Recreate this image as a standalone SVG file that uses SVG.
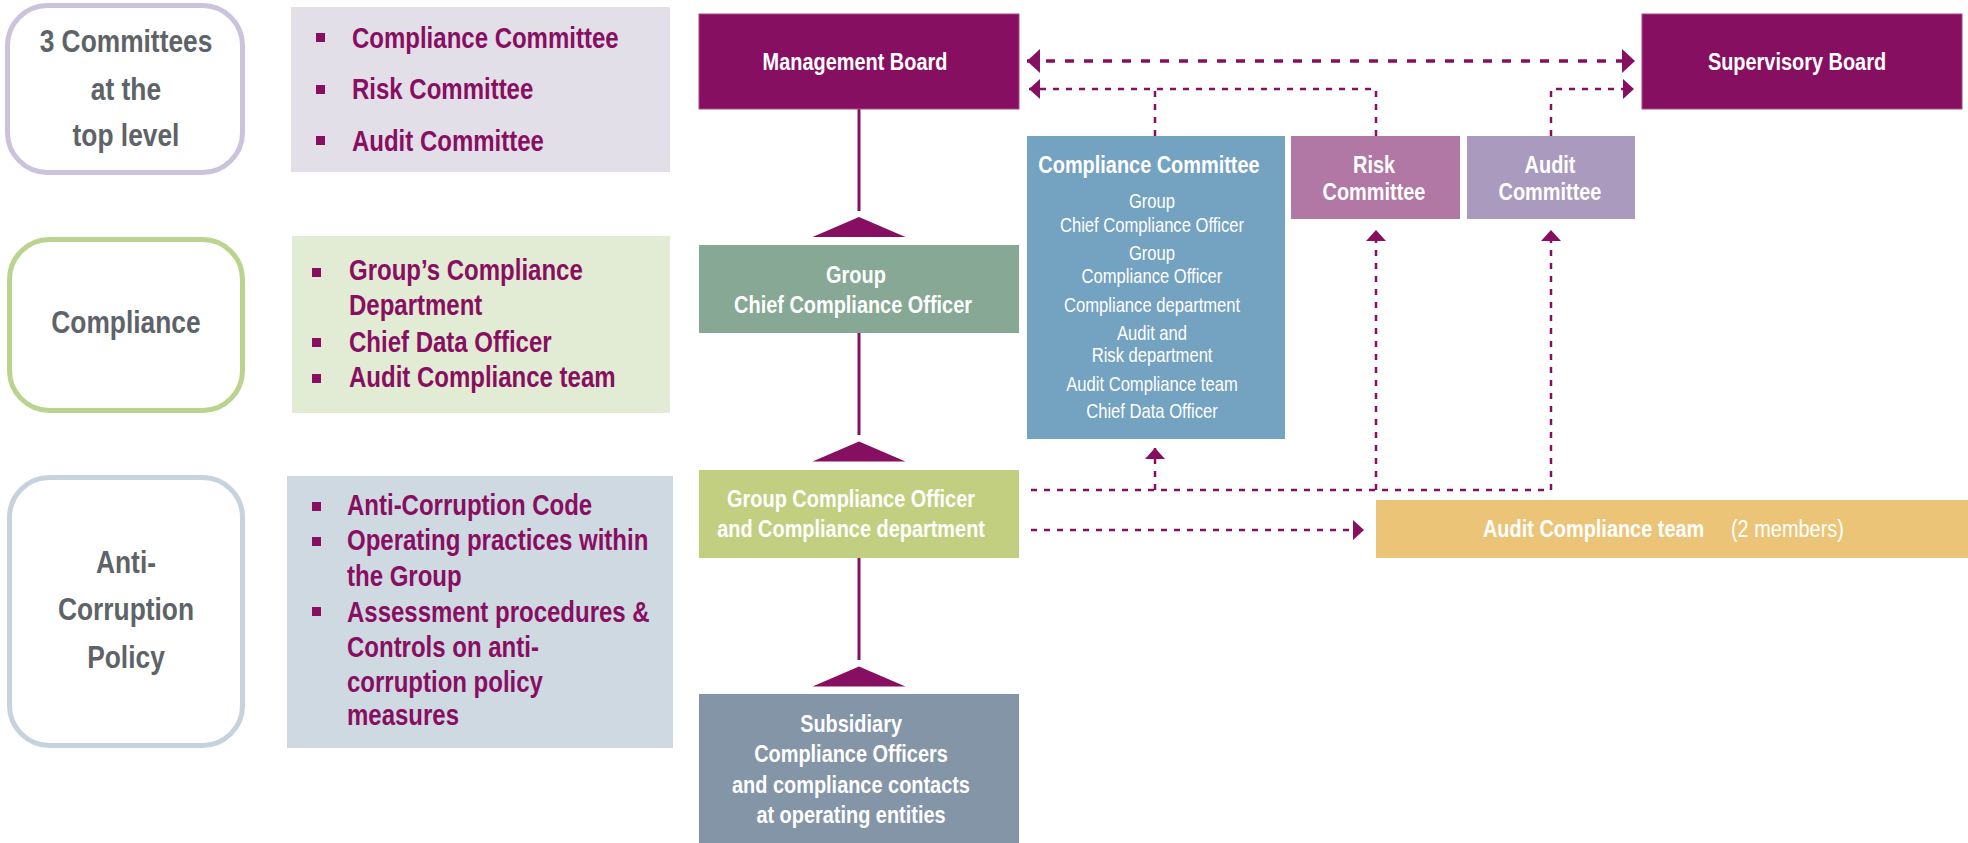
<svg xmlns="http://www.w3.org/2000/svg" width="1968" height="843" viewBox="0 0 1968 843">
<style>
text{font-family:"Liberation Sans","Arial",sans-serif;transform-box:fill-box;}
.cat{font-size:31px;font-weight:bold;fill:#5e6368;text-anchor:middle;transform-origin:center;transform:scaleX(0.85);}
.li{font-size:30px;font-weight:bold;fill:#880e62;transform-origin:left center;transform:scaleX(0.80);}
.nb{font-size:24px;font-weight:bold;fill:#fff;text-anchor:middle;transform-origin:center;transform:scaleX(0.83);}
.nr{font-size:20.5px;fill:#fff;text-anchor:middle;transform-origin:center;transform:scaleX(0.81);}
.nbl{font-size:24px;font-weight:bold;fill:#fff;transform-origin:left center;transform:scaleX(0.83);}
.nrl{font-size:24px;fill:#fff;transform-origin:left center;transform:scaleX(0.83);}
.bul{fill:#880e62;}
.solid{stroke:#870f62;stroke-width:3;fill:none;}
.tri{fill:#870f62;}
.dk{stroke:#870f62;stroke-width:3.5;fill:none;stroke-dasharray:9 10;}
.dt{stroke:#870f62;stroke-width:2.5;fill:none;stroke-dasharray:6 7;}
</style>
<defs>
<marker id="ahBig" markerUnits="userSpaceOnUse" markerWidth="14" markerHeight="24" refX="13" refY="12" orient="auto-start-reverse" viewBox="0 0 14 24">
<path d="M0,0 L13,12 L0,24 Z" fill="#870f62"/>
</marker>
<marker id="ah" markerUnits="userSpaceOnUse" markerWidth="12" markerHeight="20" refX="11" refY="10" orient="auto" viewBox="0 0 12 20">
<path d="M0,0 L11,10 L0,20 Z" fill="#870f62"/>
</marker>
</defs>
<rect width="1968" height="843" fill="#ffffff"/>

<!-- Left category boxes -->
<g id="cat-committees">
<rect x="7.5" y="5.5" width="235" height="167" rx="40" fill="#fff" stroke="#cbc3db" stroke-width="5"/>
<text class="cat" x="126" y="52">3 Committees</text>
<text class="cat" x="126" y="100">at the</text>
<text class="cat" x="126" y="146">top level</text>
</g>
<g id="list-committees">
<rect x="291" y="7" width="379" height="165" fill="#e3dfe9"/>
<rect class="bul" x="316" y="33" width="9" height="9"/>
<rect class="bul" x="316" y="85" width="9" height="9"/>
<rect class="bul" x="316" y="136" width="9" height="9"/>
<text class="li" x="352" y="48.5">Compliance Committee</text>
<text class="li" x="352" y="99">Risk Committee</text>
<text class="li" x="352" y="151">Audit Committee</text>
</g>

<g id="cat-compliance">
<rect x="9.5" y="239.5" width="233" height="171" rx="40" fill="#fff" stroke="#bad48f" stroke-width="5"/>
<text class="cat" x="126" y="333">Compliance</text>
</g>
<g id="list-compliance">
<rect x="292" y="236" width="378" height="177" fill="#e2ebd3"/>
<rect class="bul" x="312" y="268" width="9" height="9"/>
<rect class="bul" x="312" y="338" width="9" height="9"/>
<rect class="bul" x="312" y="374" width="9" height="9"/>
<text class="li" x="349" y="280">Group’s Compliance</text>
<text class="li" x="349" y="315">Department</text>
<text class="li" x="349" y="352">Chief Data Officer</text>
<text class="li" x="349" y="387">Audit Compliance team</text>
</g>

<g id="cat-anticorruption">
<rect x="9.5" y="477.5" width="233" height="268" rx="40" fill="#fff" stroke="#c6d2de" stroke-width="5"/>
<text class="cat" x="126" y="573">Anti-</text>
<text class="cat" x="126" y="620">Corruption</text>
<text class="cat" x="126" y="668">Policy</text>
</g>
<g id="list-anticorruption">
<rect x="287" y="476" width="386" height="272" fill="#cfd9e2"/>
<rect class="bul" x="312" y="502" width="9" height="9"/>
<rect class="bul" x="312" y="537" width="9" height="9"/>
<rect class="bul" x="312" y="607" width="9" height="9"/>
<text class="li" x="347" y="515">Anti-Corruption Code</text>
<text class="li" x="347" y="550">Operating practices within</text>
<text class="li" x="347" y="586">the Group</text>
<text class="li" x="347" y="622">Assessment procedures &amp;</text>
<text class="li" x="347" y="657">Controls on anti-</text>
<text class="li" x="347" y="692">corruption policy</text>
<text class="li" x="347" y="725">measures</text>
</g>

<!-- Connectors -->
<g id="connectors">
<path class="solid" d="M859,109 V211"/>
<polygon class="tri" points="859,217 905.5,237 812.5,237"/>
<path class="solid" d="M859,333 V435"/>
<polygon class="tri" points="859,441.5 905.5,461.5 812.5,461.5"/>
<path class="solid" d="M859,558 V660"/>
<polygon class="tri" points="859,666.5 905.5,686.5 812.5,686.5"/>

<path class="dk" d="M1027,61 H1635" marker-start="url(#ahBig)" marker-end="url(#ahBig)"/>
<path class="dt" d="M1376,136 V89 H1029" marker-end="url(#ah)"/>
<path class="dt" d="M1155,136 V89"/>
<path class="dt" d="M1551,136 V89 H1634" marker-end="url(#ah)"/>
<path class="dt" d="M1031,490 H1551 V230" marker-end="url(#ah)"/>
<path class="dt" d="M1376,490 V230" marker-end="url(#ah)"/>
<path class="dt" d="M1155,490 V448" marker-end="url(#ah)"/>
<path class="dt" d="M1031,530 H1364" marker-end="url(#ah)"/>
</g>

<!-- Nodes -->
<g id="management-board">
<rect x="699" y="14" width="320" height="95" fill="#870f62" stroke="#a24b86" stroke-width="1"/>
<text class="nb" x="855" y="70">Management Board</text>
</g>
<g id="supervisory-board">
<rect x="1642" y="14" width="320" height="95" fill="#870f62" stroke="#a24b86" stroke-width="1"/>
<text class="nb" x="1797" y="70">Supervisory Board</text>
</g>
<g id="group-cco">
<rect x="699" y="245" width="320" height="88" fill="#86a895"/>
<text class="nb" x="856" y="283">Group</text>
<text class="nb" x="853" y="313">Chief Compliance Officer</text>
</g>
<g id="compliance-committee">
<rect x="1027" y="136" width="258" height="303" fill="#74a2c1"/>
<text class="nb" x="1149" y="173">Compliance Committee</text>
<text class="nr" x="1152" y="208">Group</text>
<text class="nr" x="1152" y="232">Chief Compliance Officer</text>
<text class="nr" x="1152" y="260">Group</text>
<text class="nr" x="1152" y="283">Compliance Officer</text>
<text class="nr" x="1152" y="312">Compliance department</text>
<text class="nr" x="1152" y="340">Audit and</text>
<text class="nr" x="1152" y="362">Risk department</text>
<text class="nr" x="1152" y="391">Audit Compliance team</text>
<text class="nr" x="1152" y="418">Chief Data Officer</text>
</g>
<g id="risk-committee">
<rect x="1291" y="136" width="169" height="83" fill="#b278a5"/>
<text class="nb" x="1374" y="173">Risk</text>
<text class="nb" x="1374" y="200">Committee</text>
</g>
<g id="audit-committee">
<rect x="1467" y="136" width="168" height="83" fill="#aa9bbe"/>
<text class="nb" x="1550" y="173">Audit</text>
<text class="nb" x="1550" y="200">Committee</text>
</g>
<g id="group-co">
<rect x="699" y="470" width="320" height="88" fill="#c2cf80"/>
<text class="nb" x="851" y="507">Group Compliance Officer</text>
<text class="nb" x="851" y="537">and Compliance department</text>
</g>
<g id="audit-compliance-team">
<rect x="1376" y="500" width="592" height="58" fill="#ecc477"/>
<text class="nbl" x="1483" y="537">Audit Compliance team</text>
<text class="nrl" x="1731" y="537">(2 members)</text>
</g>
<g id="subsidiary">
<rect x="699" y="694" width="320" height="149" fill="#8495a8"/>
<text class="nb" x="851" y="732">Subsidiary</text>
<text class="nb" x="851" y="762">Compliance Officers</text>
<text class="nb" x="851" y="793">and compliance contacts</text>
<text class="nb" x="851" y="823">at operating entities</text>
</g>
</svg>
